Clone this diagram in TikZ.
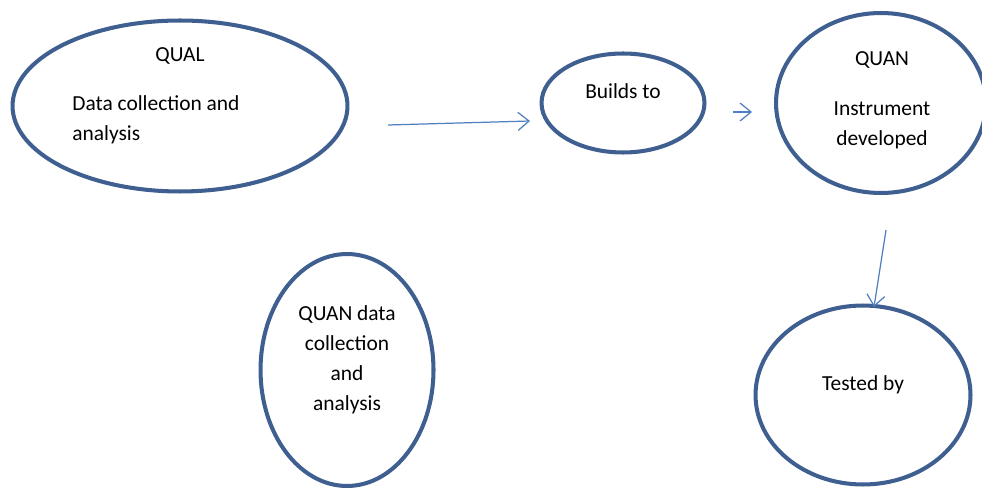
\documentclass[tikz,border=0pt]{standalone}
\usepackage{fontspec}
\setmainfont{Carlito}
\usepackage{tikz}
\usetikzlibrary{arrows.meta, positioning, shapes.geometric}
\definecolor{ringblue}{HTML}{3E5F8F}
\definecolor{arrowblue}{HTML}{4F7FC0}

\begin{document}
\begin{tikzpicture}[x=0.02cm, y=-0.02cm]
  \tikzset{stage/.style={ellipse, draw=ringblue, line width=2.3pt, inner sep=0pt}}
  \tikzset{txt/.style={font=\fontsize{12.2}{17}\selectfont, inner sep=0pt}}
  \tikzset{flow/.style={draw=arrowblue, line width=0.7pt, -{Straight Barb[length=2.2mm, width=3.6mm]}}}

  \useasboundingbox (0,0) rectangle (982,489);

  % Ellipses
  \node[stage, minimum width=6.7cm, minimum height=3.42cm] (qual) at (180,106) {};
  \node[stage, minimum width=3.26cm, minimum height=1.98cm] (builds) at (623,103) {};
  \node[stage, minimum width=4.2cm, minimum height=3.6cm] (quan) at (881,103) {};
  \node[stage, minimum width=3.46cm, minimum height=4.64cm] (quandata) at (347,370) {};
  \node[stage, minimum width=4.3cm, minimum height=3.58cm] (tested) at (863,395) {};

  % Texts
  \node[txt] (qualtitle) at (180,56) {QUAL};
  \node[txt, anchor=west, align=left] (qualbody) at (72,120) {Data collection and\\analysis};
  \node[txt] (buildstxt) at (623,91) {Builds to};
  \node[txt] (quantitle) at (882,60) {QUAN};
  \node[txt, align=center] (quanbody) at (882,125) {Instrument\\developed};
  \node[txt, align=center] (quandatatxt) at (347,360) {QUAN data\\collection\\and\\analysis};
  \node[txt] (testedtxt) at (863,385) {Tested by};

  % Arrows
  \coordinate (a1s) at (388,125);
  \coordinate (a1e) at (530,121);
  \coordinate (a2s) at (733,112);
  \coordinate (a2e) at (752,112);
  \coordinate (a3s) at (886,230);
  \coordinate (a3e) at (874,307);
  \draw[flow] (a1s) -- (a1e);
  \draw[flow] (a2s) -- (a2e);
  \draw[flow] (a3s) -- (a3e);
\end{tikzpicture}
\end{document}
